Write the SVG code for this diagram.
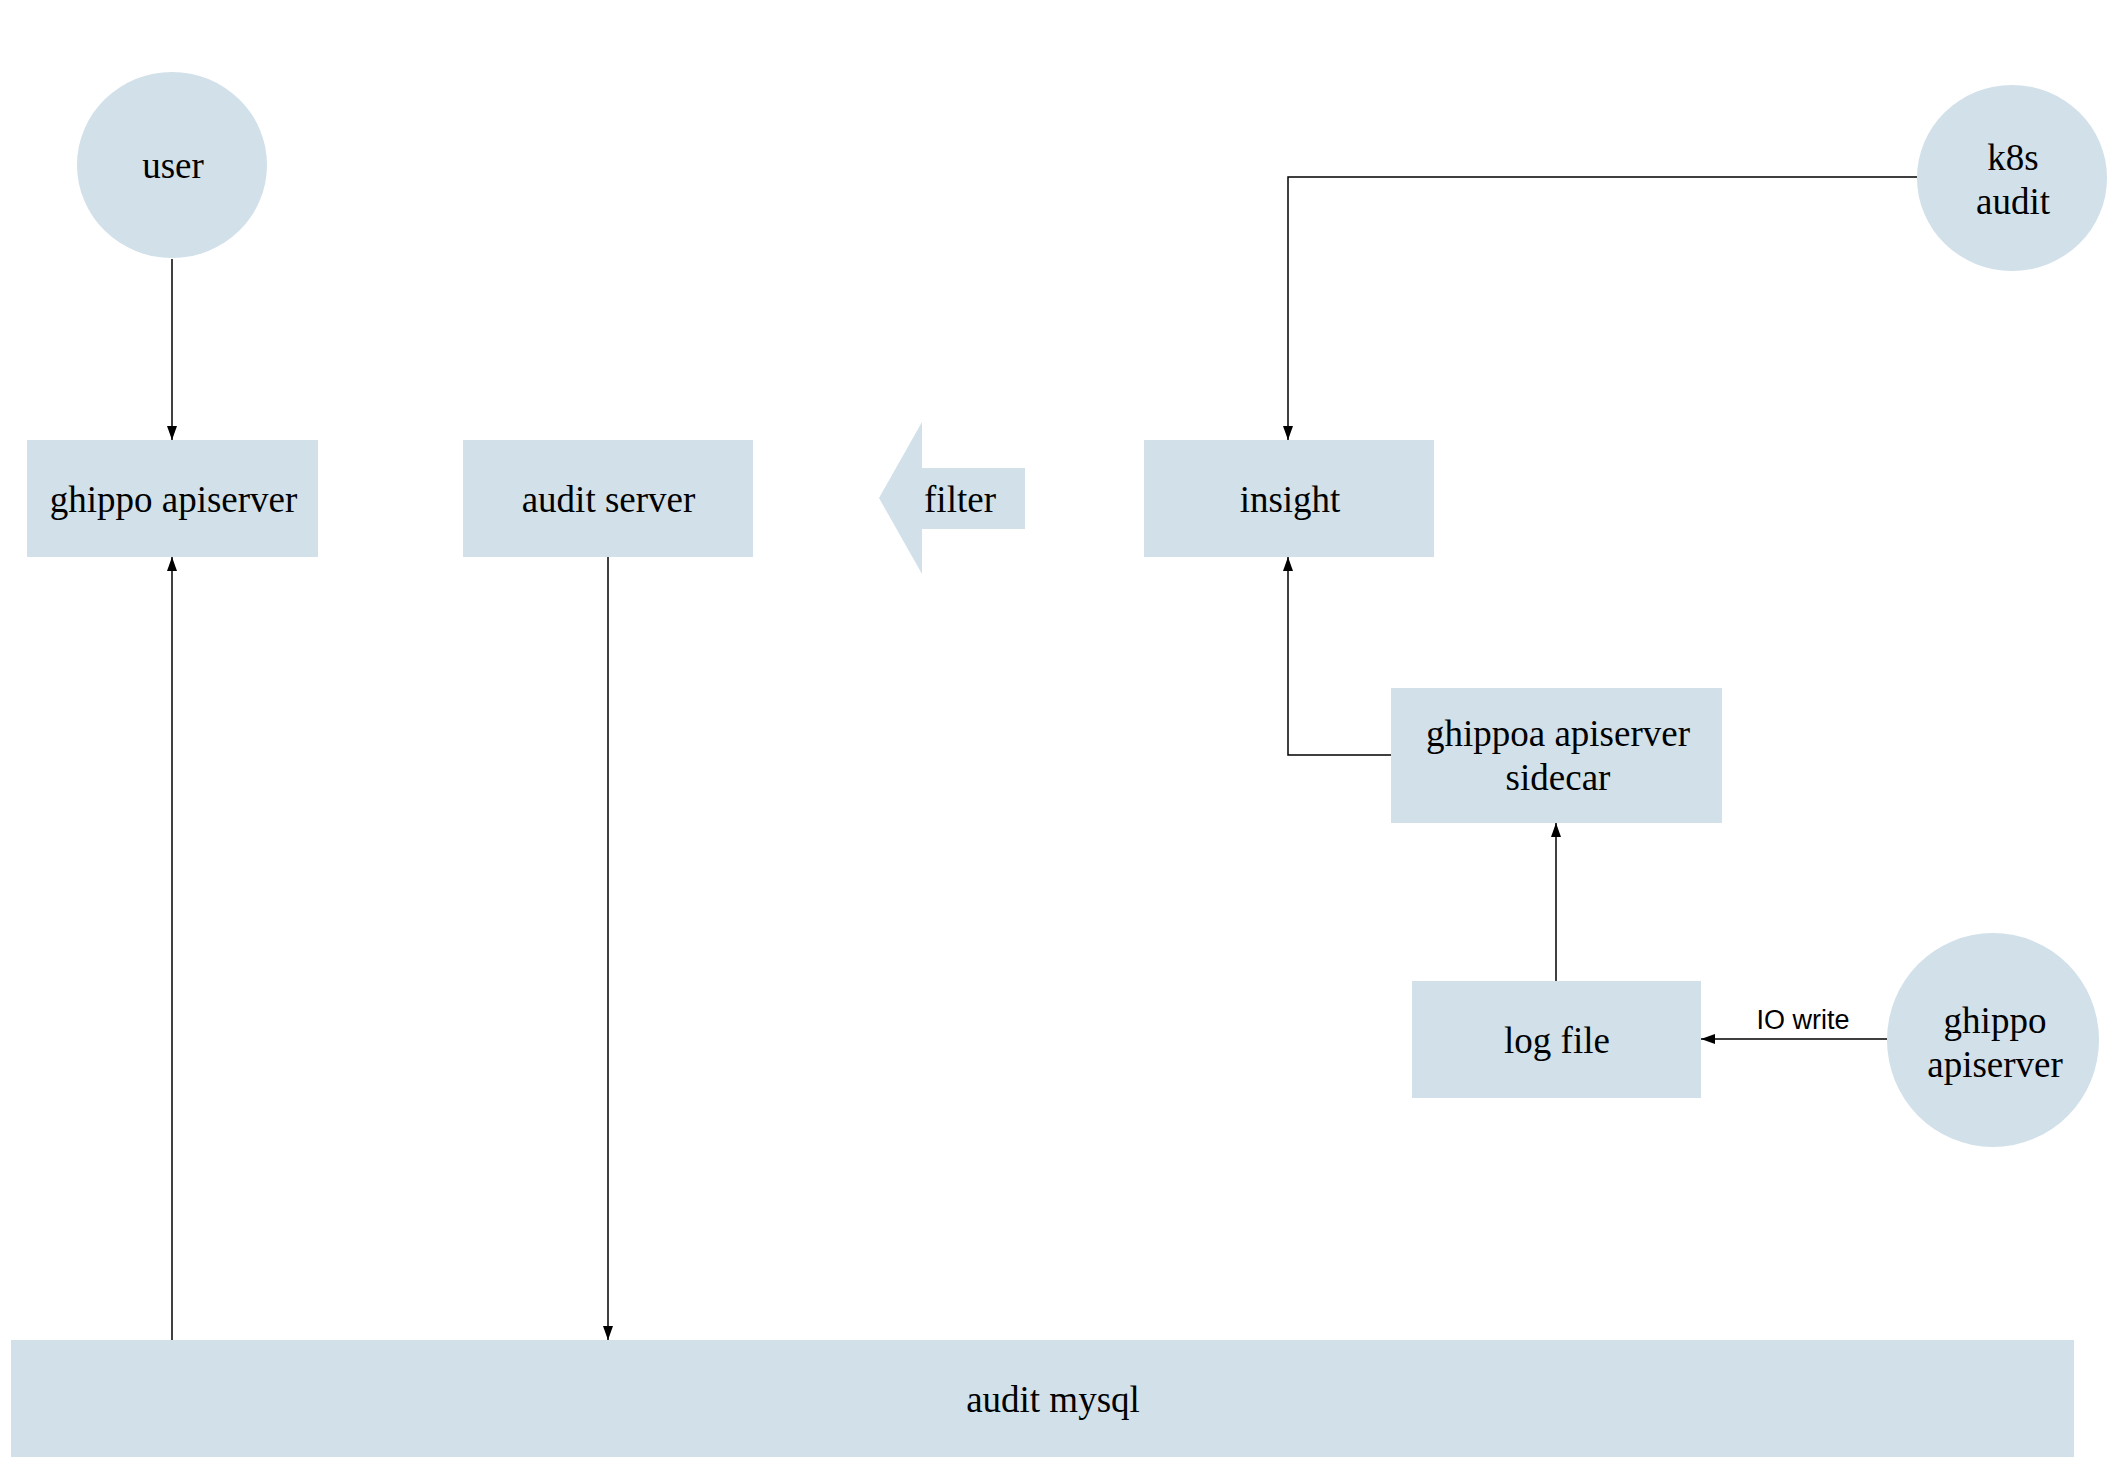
<svg xmlns="http://www.w3.org/2000/svg" width="2122" height="1480" viewBox="0 0 2122 1480">
<defs>
<style>
.node{fill:#d1e0e9;stroke:none}
.lbl{font-family:"Liberation Serif","Times New Roman",serif;font-size:37px;fill:#000;text-anchor:middle}
.elbl{font-family:"Liberation Sans",Arial,sans-serif;font-size:27px;fill:#000;text-anchor:middle}
.edge{fill:none;stroke:#000;stroke-width:1.5}
</style>
<marker id="arr" markerUnits="userSpaceOnUse" markerWidth="14" markerHeight="10" refX="14" refY="5" orient="auto">
<path d="M0,0 L14,5 L0,10 z" fill="#000"/>
</marker>
</defs>
<rect width="2122" height="1480" fill="#fff"/>
<g id="connectors">
<path class="edge" d="M172,259 L172,440" marker-end="url(#arr)"/>
<path class="edge" d="M172,1340 L172,557" marker-end="url(#arr)"/>
<path class="edge" d="M608,557 L608,1340" marker-end="url(#arr)"/>
<path class="edge" d="M1917,177 L1288,177 L1288,440" marker-end="url(#arr)"/>
<path class="edge" d="M1391,755 L1288,755 L1288,557" marker-end="url(#arr)"/>
<path class="edge" d="M1556,981 L1556,823" marker-end="url(#arr)"/>
<path class="edge" d="M1887,1039 L1701,1039" marker-end="url(#arr)"/>
<text class="elbl" x="1803" y="1029">IO write</text>
</g>
<g id="user">
<ellipse class="node" cx="172" cy="165" rx="95" ry="93"/>
<text class="lbl" x="173" y="178">user</text>
</g>
<g id="ghippo-apiserver">
<rect class="node" x="27" y="440" width="291" height="117"/>
<text class="lbl" x="173.5" y="512">ghippo apiserver</text>
</g>
<g id="audit-server">
<rect class="node" x="463" y="440" width="290" height="117"/>
<text class="lbl" x="608.5" y="512">audit server</text>
</g>
<g id="filter">
<polygon class="node" points="879,498 922,422 922,468 1025,468 1025,529 922,529 922,574"/>
<text class="lbl" x="960" y="512">filter</text>
</g>
<g id="insight">
<rect class="node" x="1144" y="440" width="290" height="117"/>
<text class="lbl" x="1290" y="512">insight</text>
</g>
<g id="k8s-audit">
<ellipse class="node" cx="2012" cy="178" rx="95" ry="93"/>
<text class="lbl" x="2013" y="170">k8s</text>
<text class="lbl" x="2013" y="214">audit</text>
</g>
<g id="sidecar">
<rect class="node" x="1391" y="688" width="331" height="135"/>
<text class="lbl" x="1558" y="746">ghippoa apiserver</text>
<text class="lbl" x="1558" y="790">sidecar</text>
</g>
<g id="log-file">
<rect class="node" x="1412" y="981" width="289" height="117"/>
<text class="lbl" x="1557" y="1053">log file</text>
</g>
<g id="ghippo-apiserver-2">
<ellipse class="node" cx="1993" cy="1040" rx="106" ry="107"/>
<text class="lbl" x="1995" y="1033">ghippo</text>
<text class="lbl" x="1995" y="1077">apiserver</text>
</g>
<g id="audit-mysql">
<rect class="node" x="11" y="1340" width="2063" height="117"/>
<text class="lbl" x="1053" y="1412">audit mysql</text>
</g>
</svg>
